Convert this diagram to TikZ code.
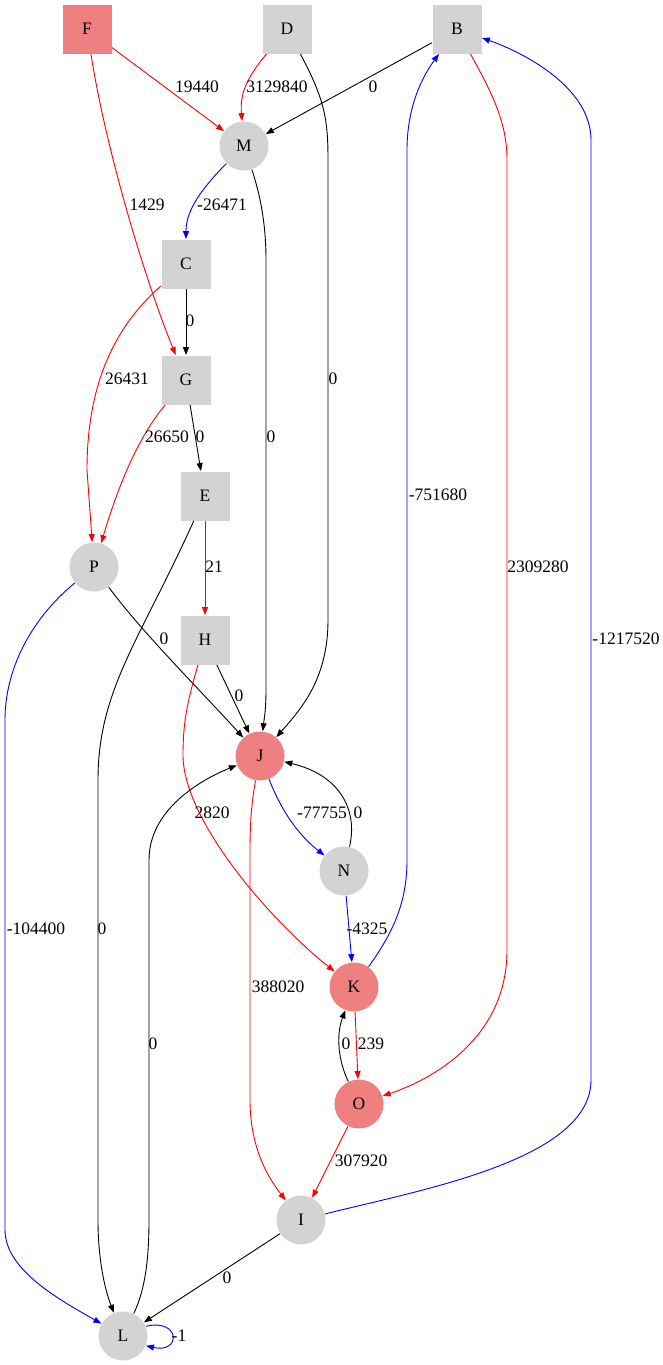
\documentclass[tikz,border=0pt]{standalone}
\usepackage{fontspec}
\setmainfont{Liberation Serif}
\usetikzlibrary{arrows.meta}
\definecolor{lgray}{RGB}{211,211,211}
\definecolor{lcoral}{RGB}{240,128,128}
\begin{document}
\begin{tikzpicture}[x=1pt, y=-1pt, font=\fontsize{17.5}{20}\selectfont,
    >={Triangle[length=8pt, width=6pt]}, line width=0.9pt,
    sq/.style={rectangle, fill=lgray, minimum size=49pt, inner sep=0pt},
    rnd/.style={circle, fill=lgray, minimum size=49pt, inner sep=0pt},
    hot/.style={fill=lcoral},
    redE/.style={->, red},
    blueE/.style={->, blue},
    blkE/.style={->, black},
    lbl/.style={inner sep=0pt}]
  \useasboundingbox (0,0) rectangle (663,1365);

  % nodes
  \node[sq, hot] (F) at (87,29)   {F};
  \node[sq]      (D) at (287,29)  {D};
  \node[sq]      (B) at (457,29)  {B};
  \node[rnd]     (M) at (244,146) {M};
  \node[sq]      (C) at (186,264) {C};
  \node[sq]      (G) at (186,380) {G};
  \node[sq]      (E) at (205,496) {E};
  \node[rnd]     (P) at (94,567)  {P};
  \node[sq]      (H) at (205,640) {H};
  \node[rnd, hot] (J) at (260,756) {J};
  \node[rnd]     (N) at (344,871) {N};
  \node[rnd, hot] (K) at (354,987) {K};
  \node[rnd, hot] (O) at (359,1104) {O};
  \node[rnd]     (I) at (301,1220) {I};
  \node[rnd]     (L) at (123,1336) {L};

  % edges out of the top row
  \draw[redE] (F) -- (M);
  \node[lbl] (lFM) at (197,87) {19440};
  \draw[redE] (F) .. controls (106,150) and (145,280) .. (G);
  \node[lbl] (lFG) at (147,205) {1429};
  \draw[redE] (D) .. controls (245,80) and (240,95) .. (M);
  \node[lbl] (lDM) at (277,87) {3129840};
  \draw[blkE] (D) .. controls (325,100) and (328,120) .. (328,160) -- (328,620)
    .. controls (328,680) and (300,710) .. (J);
  \node[lbl] (lDJ) at (333,379) {0};
  \draw[blkE] (B) -- (M);
  \node[lbl] (lBM) at (373,87) {0};
  \draw[redE] (B) .. controls (490,90) and (507,120) .. (507,160) -- (507,950)
    .. controls (507,1040) and (430,1080) .. (O);
  \node[lbl] (lBO) at (538,567) {2309280};

  % middle column
  \draw[blueE] (M) .. controls (195,195) and (186,215) .. (C);
  \node[lbl] (lMC) at (222,205) {-26471};
  \draw[blkE] (M) .. controls (262,200) and (266,230) .. (266,260) -- (266,690)
    .. controls (266,710) and (264,720) .. (J);
  \node[lbl] (lMJ) at (271,437) {0};
  \draw[blkE] (C) -- (G);
  \node[lbl] (lCG) at (190,321) {0};
  \draw[redE] (C) .. controls (105,335) and (87,400) .. (87,470) -- (P);
  \node[lbl] (lCP) at (127,379) {26431};
  \draw[redE] (G) .. controls (140,435) and (120,480) .. (P);
  \node[lbl] (lGP) at (167,437) {26650};
  \draw[blkE] (G) -- (E);
  \node[lbl] (lGE) at (200,437) {0};
  \draw[redE] (E) -- (H);
  \node[lbl] (lEH) at (214,567) {21};
  \draw[blkE] (E) .. controls (140,640) and (98,690) .. (98,780) -- (98,1220)
    .. controls (98,1260) and (105,1290) .. (L);
  \node[lbl] (lEL) at (102,929) {0};
  \draw[blkE] (P) .. controls (140,630) and (200,690) .. (J);
  \node[lbl] (lPJ) at (164,639) {0};
  \draw[blueE] (P) .. controls (30,620) and (5,670) .. (5,720) -- (5,1230)
    .. controls (5,1270) and (60,1300) .. (L);
  \node[lbl] (lPL) at (36,929) {-104400};
  \draw[blkE] (H) -- (J);
  \node[lbl] (lHJ) at (239,696) {0};
  \draw[redE] (H) .. controls (188,700) and (183,720) .. (183,755)
    .. controls (183,820) and (270,920) .. (K);
  \node[lbl] (lHK) at (212,813) {2820};

  % around J, N, K, O
  \draw[blueE] (J) .. controls (285,820) and (305,840) .. (N);
  \node[lbl] (lJN) at (322,813) {-77755};
  \draw[blkE] (N) .. controls (358,810) and (340,775) .. (J);
  \node[lbl] (lNJ) at (358,813) {0};
  \draw[redE] (J) .. controls (252,800) and (250,820) .. (250,850) -- (250,1100)
    .. controls (250,1150) and (270,1180) .. (I);
  \node[lbl] (lJI) at (278,987) {388020};
  \draw[blueE] (N) -- (K);
  \node[lbl] (lNK) at (367,929) {-4325};
  \draw[blueE] (K) .. controls (395,930) and (407,900) .. (407,860) -- (407,150)
    .. controls (407,110) and (420,80) .. (B);
  \node[lbl] (lKB) at (438,495) {-751680};
  \draw[redE] (K) -- (O);
  \node[lbl] (lKO) at (371,1044) {239};
  \draw[blkE] (O) .. controls (338,1060) and (336,1035) .. (K);
  \node[lbl] (lOK) at (346,1044) {0};
  \draw[redE] (O) -- (I);
  \node[lbl] (lOI) at (361,1161) {307920};

  % bottom
  \draw[blueE] (I) .. controls (420,1190) and (591,1160) .. (591,1080) -- (591,140)
    .. controls (591,90) and (530,55) .. (B);
  \node[lbl] (lIB) at (626,639) {-1217520};
  \draw[blkE] (I) -- (L);
  \node[lbl] (lIL) at (227,1278) {0};
  \draw[blkE] (L) .. controls (145,1290) and (149,1260) .. (149,1220) -- (149,860)
    .. controls (149,810) and (200,780) .. (J);
  \node[lbl] (lLJ) at (153,1044) {0};
  \draw[blueE] (L.23) .. controls +(35,-8) and +(35,8) .. (L.-23);
  \node[lbl] (lLL) at (179,1336) {-1};
\end{tikzpicture}
\end{document}
